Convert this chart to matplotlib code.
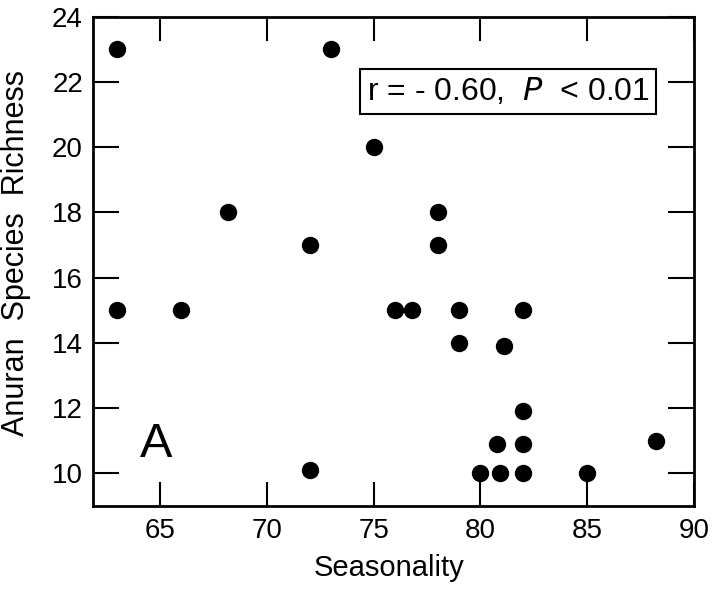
import matplotlib
matplotlib.use("Agg")
import matplotlib.pyplot as plt

plt.rcParams['font.family'] = ['Liberation Sans', 'DejaVu Sans']

# Data
seasonality = [63, 73, 75, 68.2, 72, 78, 78, 63, 66, 76, 76.8, 79, 82,
               79, 81.1, 82, 80.8, 82, 88.2, 72, 80, 80.9, 82, 85]
richness = [23, 23, 20, 18, 17, 18, 17, 15, 15, 15, 15, 15, 15,
            14, 13.9, 11.9, 10.9, 10.9, 11, 10.1, 10, 10, 10, 10]

xticks = [65, 70, 75, 80, 85, 90]
yticks = [10, 12, 14, 16, 18, 20, 22, 24]

fig = plt.figure(figsize=(7.23, 5.90), dpi=100)
ax = fig.add_axes([0.1282, 0.1424, 0.8317, 0.8293])

ax.plot(seasonality, richness, 'o', color='black', ms=11.5, mec='black', ls='none')

ax.set_xlim(61.85, 90)
ax.set_ylim(9.0, 24.0)
ax.set_xticks(xticks)
ax.set_yticks(yticks)

for s in ax.spines.values():
    s.set_linewidth(2.0)

ax.tick_params(axis='both', which='major', direction='in', top=True, right=True,
               width=1.5, labelsize=20)
ax.tick_params(axis='x', length=17, pad=9)
ax.tick_params(axis='y', length=19, pad=7)

ax.set_xlabel('Seasonality', fontsize=21)
ax.xaxis.set_label_coords(0.4928, -0.099)
ax.set_ylabel('Anuran  Species  Richness', fontsize=22)
ax.yaxis.set_label_coords(-0.1026, 0.518)

ax.text(0.6907, 0.8467, r'r = - 0.60,  $\it{P}$  < 0.01', transform=ax.transAxes,
        fontsize=23, ha='center', va='center',
        bbox=dict(boxstyle='square,pad=0.22', fc='white', ec='black', lw=1.5))

ax.text(0.1058, 0.1008, 'A', transform=ax.transAxes, fontsize=35,
        ha='center', va='baseline')

fig.savefig('out.png', dpi=100)
